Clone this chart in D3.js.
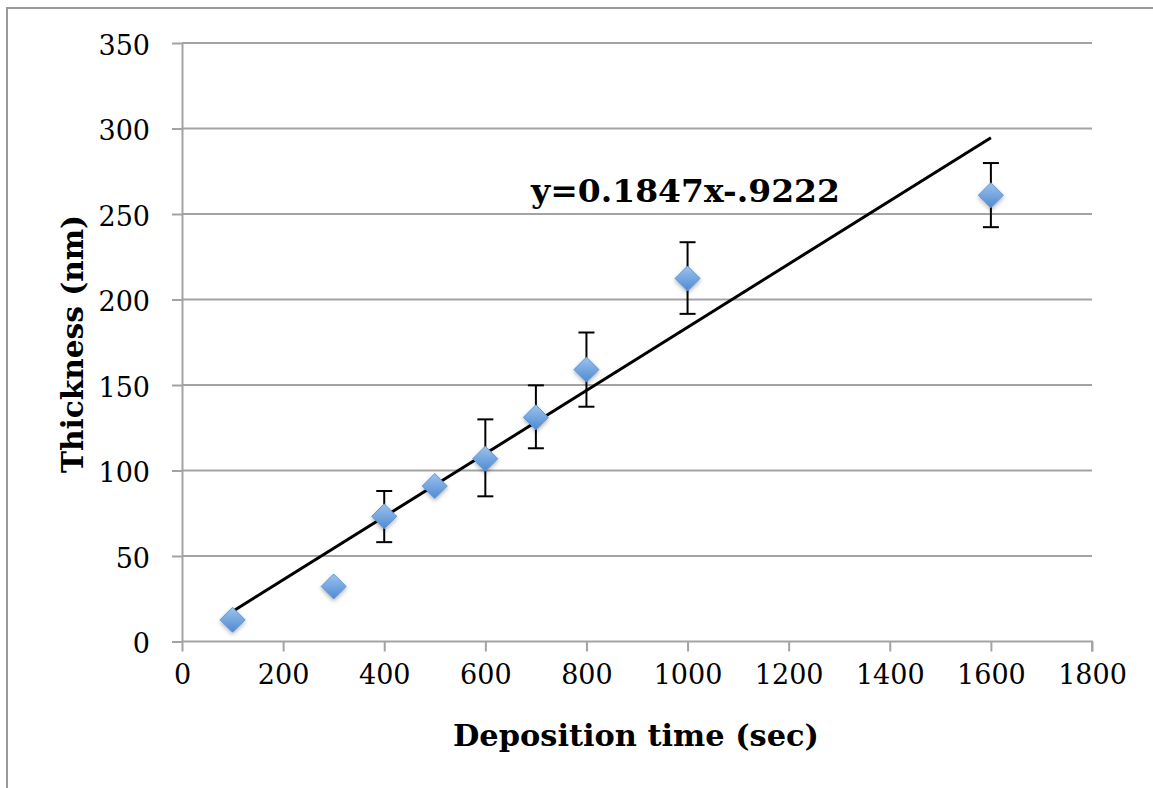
<!DOCTYPE html>
<html>
<head>
<meta charset="utf-8">
<script src="https://cdn.jsdelivr.net/npm/d3@7"></script>
<style>
  body { margin: 0; background: #fff; }
</style>
</head>
<body>
<script>
// deposition time (sec) and measured thickness (nm)
const times = [100, 300, 400, 500, 600, 700, 800, 1000, 1600];
const thickness = [12.7, 32.2, 73.2, 90.9, 106.9, 131.1, 159.0, 212.3, 261.0];
const errUp = [2, 2, 14.8, 2, 23, 18.7, 21.7, 21.2, 18.8];
const errDown = [2, 2, 15.1, 2, 22, 18.1, 21.7, 20.7, 18.7];
const xTicks = [0, 200, 400, 600, 800, 1000, 1200, 1400, 1600, 1800];
const yTicks = [0, 50, 100, 150, 200, 250, 300, 350];
const fitSlope = 0.1847;
const fitIntercept = -0.9222;
const fitLabel = "y=0.1847x-.9222";

const width = 1153, height = 788;
const margin = { left: 182, right: 62, top: 43, bottom: 147 };

const svg = d3.select("body").append("svg")
  .attr("width", width)
  .attr("height", height);

const defs = svg.append("defs");
const grad = defs.append("linearGradient")
  .attr("id", "marker-fill")
  .attr("x1", "0%").attr("y1", "0%").attr("x2", "0%").attr("y2", "100%");
grad.append("stop").attr("offset", "0%").attr("stop-color", "#9cc3ee");
grad.append("stop").attr("offset", "100%").attr("stop-color", "#4f8ad2");

const shadow = defs.append("filter").attr("id", "shadow")
  .attr("x", "-50%").attr("y", "-50%").attr("width", "200%").attr("height", "200%");
shadow.append("feDropShadow")
  .attr("dx", 0).attr("dy", 2).attr("stdDeviation", 2)
  .attr("flood-color", "#000").attr("flood-opacity", 0.3);

// outer frame
svg.append("path")
  .attr("d", `M7,${height} L7,8 L${width},8`)
  .attr("fill", "none")
  .attr("stroke", "#9a9a9a")
  .attr("stroke-width", 2);

const x = d3.scaleLinear().domain([0, 1800]).range([margin.left, width - margin.right + 1]);
const y = d3.scaleLinear().domain([0, 350]).range([height - margin.bottom + 0.5, margin.top]);

// gridlines
svg.append("g")
  .selectAll("line")
  .data(yTicks.filter(d => d > 0))
  .join("line")
  .attr("x1", x(0)).attr("x2", x(1800))
  .attr("y1", d => y(d)).attr("y2", d => y(d))
  .attr("stroke", "#a3a3a3")
  .attr("stroke-width", 2);

// y axis
const yAxis = svg.append("g")
  .attr("transform", `translate(${x(0)},0)`)
  .call(d3.axisLeft(y).tickValues(yTicks).tickSize(10).tickPadding(22).tickSizeOuter(0));
// x axis
const xAxis = svg.append("g")
  .attr("transform", `translate(0,${y(0)})`)
  .call(d3.axisBottom(x).tickValues(xTicks).tickFormat(d3.format("d"))
    .tickSize(10).tickPadding(13).tickSizeOuter(0));

[xAxis, yAxis].forEach(g => {
  g.select(".domain").attr("stroke", "#a3a3a3").attr("stroke-width", 2);
  g.selectAll(".tick line").attr("stroke", "#a3a3a3").attr("stroke-width", 2);
  g.selectAll(".tick text")
    .attr("fill", "#000")
    .style("font-family", "'DejaVu Serif', serif")
    .style("font-size", "27px");
});
yAxis.selectAll(".tick text").attr("dy", "0.42em");
xAxis.select(".domain").attr("d", `M${x(0)},0H${x(1800)}V10`);

const points = times.map((t, i) => ({
  t, v: thickness[i], up: errUp[i], down: errDown[i]
}));

// trendline
const tMin = d3.min(times), tMax = d3.max(times);
svg.append("line")
  .attr("x1", x(tMin)).attr("y1", y(fitSlope * tMin + fitIntercept))
  .attr("x2", x(tMax)).attr("y2", y(fitSlope * tMax + fitIntercept))
  .attr("stroke", "#000")
  .attr("stroke-width", 3);

// error bars
const eb = svg.append("g").attr("stroke", "#000").attr("stroke-width", 2);
eb.selectAll(".stem").data(points).join("line")
  .attr("x1", d => x(d.t)).attr("x2", d => x(d.t))
  .attr("y1", d => y(d.v + d.up)).attr("y2", d => y(d.v - d.down));
eb.selectAll(".capT").data(points).join("line")
  .attr("x1", d => x(d.t) - 8).attr("x2", d => x(d.t) + 8)
  .attr("y1", d => y(d.v + d.up)).attr("y2", d => y(d.v + d.up));
eb.selectAll(".capB").data(points).join("line")
  .attr("x1", d => x(d.t) - 8).attr("x2", d => x(d.t) + 8)
  .attr("y1", d => y(d.v - d.down)).attr("y2", d => y(d.v - d.down));

// markers
svg.append("g").selectAll("path").data(points).join("path")
  .attr("d", "M0,-12.5L12.5,0L0,12.5L-12.5,0Z")
  .attr("transform", d => `translate(${x(d.t)},${y(d.v)})`)
  .attr("fill", "url(#marker-fill)")
  .attr("stroke", "#5f94d4")
  .attr("stroke-width", 1)
  .attr("filter", "url(#shadow)");

// equation label
svg.append("text")
  .attr("x", 531).attr("y", 202)
  .text(fitLabel)
  .attr("textLength", 309)
  .attr("lengthAdjust", "spacingAndGlyphs")
  .style("font-family", "'DejaVu Serif', serif")
  .style("font-weight", "bold")
  .style("font-size", "32px");

// axis titles
svg.append("text")
  .attr("x", 636).attr("y", 746)
  .attr("text-anchor", "middle")
  .text("Deposition time (sec)")
  .attr("textLength", 366)
  .attr("lengthAdjust", "spacingAndGlyphs")
  .style("font-family", "'DejaVu Serif', serif")
  .style("font-weight", "bold")
  .style("font-size", "30px");

svg.append("text")
  .attr("transform", "translate(83,344) rotate(-90)")
  .attr("text-anchor", "middle")
  .text("Thickness (nm)")
  .attr("textLength", 258)
  .attr("lengthAdjust", "spacingAndGlyphs")
  .style("font-family", "'DejaVu Serif', serif")
  .style("font-weight", "bold")
  .style("font-size", "30px");
</script>
</body>
</html>
